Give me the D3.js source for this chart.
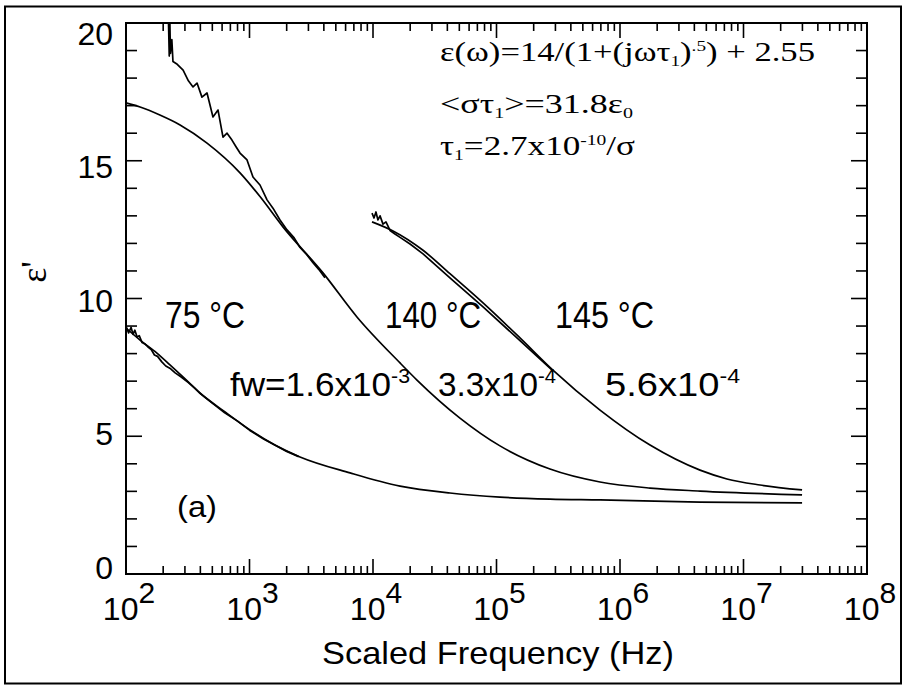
<!DOCTYPE html>
<html><head><meta charset="utf-8">
<script src="https://cdn.jsdelivr.net/npm/d3@7"></script>
<style>body{margin:0;background:#fff}</style>
</head><body>
<svg id="c" width="906" height="686"></svg>
<script>
// ---- data (frequency in Hz, permittivity eps') ----
const fit75Freq = [100, 130, 178, 227, 301, 397, 634, 1009, 1607, 2564, 6516, 16560, 41980, 106700, 271000, 689000, 4446000, 29800000];
const fit75Val  = [8.93, 8.49, 8.02, 7.59, 7.08, 6.57, 5.88, 5.23, 4.68, 4.25, 3.67, 3.19, 2.94, 2.79, 2.72, 2.69, 2.61, 2.58];
const data75Freq = [100, 105, 110, 114, 118, 123, 128, 135, 142, 150, 160, 170, 180, 195, 210, 230, 250, 280, 320, 360, 400, 500, 630, 800, 1000, 1300, 1600, 2000, 2500];
const data75Val  = [9.0, 8.75, 8.95, 8.7, 8.85, 8.6, 8.65, 8.4, 8.35, 8.25, 8.15, 7.95, 7.9, 7.7, 7.55, 7.45, 7.3, 7.15, 6.95, 6.75, 6.55, 6.2, 5.85, 5.55, 5.22, 4.9, 4.68, 4.45, 4.26];

const fit140Freq = [100, 130, 188, 274, 453, 838, 1216, 1866, 3936, 7413, 16558, 22700, 50580, 106700, 271000, 689000, 1750000, 4446000, 29800000];
const fit140Val  = [17.10, 16.95, 16.66, 16.30, 15.64, 14.56, 13.70, 12.60, 10.93, 9.33, 7.66, 7.04, 5.66, 4.65, 3.81, 3.34, 3.12, 3.01, 2.87];
const data140Freq = [219, 224, 226, 229, 235, 240, 260, 290, 320, 349, 376, 412, 453, 506, 556, 610, 658, 721, 780, 838, 955, 1067, 1216, 1387, 1549, 1766, 2014, 2300, 2564, 2900, 3266, 3650, 4083];
const data140Val  = [20.8, 18.8, 20.3, 18.9, 19.4, 18.6, 18.5, 18.29, 17.9, 17.68, 17.82, 17.31, 17.46, 16.59, 16.84, 15.86, 16.0, 15.75, 15.5, 15.28, 15.03, 14.41, 14.12, 13.58, 13.28, 12.85, 12.49, 12.2, 11.85, 11.6, 11.3, 11.05, 10.75];

const fit145Freq = [9817, 14520, 25410, 41980, 77800, 154900, 286400, 689000, 1750000, 4446000, 7345000, 13610000, 29800000];
const fit145Val  = [12.78, 12.45, 11.75, 10.90, 9.84, 8.57, 7.40, 5.95, 4.68, 3.77, 3.45, 3.23, 3.05];
const data145Freq = [9817, 10186, 10568, 10965, 11402, 12050, 12735, 13740, 15066, 16558, 19953, 25410, 41976, 77804, 154882, 286417];
const data145Val  = [13.10, 12.92, 13.14, 12.85, 13.0, 12.70, 12.78, 12.47, 12.34, 12.22, 11.98, 11.62, 10.75, 9.70, 8.47, 7.37];

const xDecades = [2, 3, 4, 5, 6, 7, 8];
const yTickLabels = [0, 5, 10, 15, 20];
const tempLabels = ["75 \u00B0C", "140 \u00B0C", "145 \u00B0C"];
const fwMantissa = ["fw=1.6x10", "3.3x10", "5.6x10"];
const fwExponent = ["-3", "-4", "-4"];

// ---- layout ----
const svg = d3.select('#c');
const L = 126, R = 867, T = 23, B = 574;
const x = d3.scaleLog().domain([1e2, 1e8]).range([L, R]);
const y = d3.scaleLinear().domain([0, 20]).range([B, T]);
const yLab = d3.scaleLinear().domain([0, 20]).range([567, 33]);
const sans = "'Liberation Sans', Arial, Helvetica, sans-serif";
const serif = "'Liberation Serif', 'Times New Roman', serif";

// outer frame
svg.append('rect').attr('x', 5).attr('y', 6.5).attr('width', 896).attr('height', 677)
  .attr('fill', 'none').attr('stroke', '#000').attr('stroke-width', 2);

svg.append('clipPath').attr('id', 'clip').append('rect')
  .attr('x', L).attr('y', T).attr('width', R - L).attr('height', B - T);

// ticks
const tg = svg.append('g').attr('stroke', '#000').attr('stroke-width', 1.6);
x.ticks().forEach(v => {
  const major = Math.abs(Math.log10(v) - Math.round(Math.log10(v))) < 1e-9;
  const len = major ? 15 : 8;
  const px = x(v);
  tg.append('line').attr('x1', px).attr('x2', px).attr('y1', B).attr('y2', B - len);
  tg.append('line').attr('x1', px).attr('x2', px).attr('y1', T).attr('y2', T + len);
});
y.ticks(20).forEach(v => {
  const len = (v % 5 === 0) ? 16 : 11;
  const py = y(v);
  tg.append('line').attr('x1', L).attr('x2', L + len).attr('y1', py).attr('y2', py);
  tg.append('line').attr('x1', R).attr('x2', R - len).attr('y1', py).attr('y2', py);
});
// plot frame
svg.append('rect').attr('x', L).attr('y', T).attr('width', R - L).attr('height', B - T)
  .attr('fill', 'none').attr('stroke', '#000').attr('stroke-width', 2);

// curves
const smooth = d3.line().x(d => x(d[0])).y(d => y(d[1])).curve(d3.curveMonotoneX);
const rough = d3.line().x(d => x(d[0])).y(d => y(d[1]));
const cg = svg.append('g').attr('clip-path', 'url(#clip)').attr('fill', 'none').attr('stroke', '#000')
  .attr('stroke-width', 1.7).attr('stroke-linejoin', 'round');
[[fit75Freq, fit75Val, smooth], [data75Freq, data75Val, rough], [fit140Freq, fit140Val, smooth], [data140Freq, data140Val, rough],
 [fit145Freq, fit145Val, smooth], [data145Freq, data145Val, rough]].forEach(([f, v, gen]) => {
  cg.append('path').attr('d', gen(f.map((ff, i) => [ff, v[i]])));
});

// y tick labels
yTickLabels.forEach(v => {
  svg.append('text').attr('x', 113).attr('y', yLab(v)).attr('dy', '0.36em')
    .attr('text-anchor', 'end').attr('font-family', sans).attr('font-size', 32).text(v);
});
// x tick labels
xDecades.forEach(e => {
  const t = svg.append('text').attr('x', x(Math.pow(10, e)) + 3).attr('y', 620)
    .attr('text-anchor', 'middle').attr('font-family', sans).attr('font-size', 32);
  t.append('tspan').text('10');
  t.append('tspan').attr('dy', -17).attr('font-size', 30).text(e);
});
// axis titles
svg.append('text').attr('x', 498).attr('y', 664).attr('text-anchor', 'middle')
  .attr('font-family', sans).attr('font-size', 32).attr('textLength', 352).attr('lengthAdjust', 'spacingAndGlyphs')
  .text('Scaled Frequency (Hz)');
svg.append('text').attr('transform', 'translate(46,272) rotate(-90)').attr('text-anchor', 'middle')
  .attr('font-family', serif).attr('font-size', 36).text("\u03B5'");

// rich text helper
function rich(xp, yp, parts, opts) {
  const t = svg.append('text').attr('x', xp).attr('y', yp)
    .attr('font-family', opts.family).attr('font-size', opts.size);
  if (opts.len) t.attr('textLength', opts.len).attr('lengthAdjust', 'spacingAndGlyphs');
  let shift = 0;
  parts.forEach(p => {
    const target = p.sup ? -p.sup : (p.sub ? p.sub : 0);
    const ts = t.append('tspan').text(p.t).attr('dy', target - shift);
    if (p.fs) ts.attr('font-size', p.fs);
    shift = target;
  });
  return t;
}
// formula annotations
rich(440, 61, [{t: '\u03B5(\u03C9)=14/(1+(j\u03C9\u03C4'}, {t: '1', sub: 5, fs: 15}, {t: ')'}, {t: '.5', sup: 10, fs: 15}, {t: ') + 2.55'}],
  {family: serif, size: 27, len: 375});
rich(440, 113, [{t: '<\u03C3\u03C4'}, {t: '1', sub: 5, fs: 15}, {t: '>=31.8\u03B5'}, {t: '0', sub: 5, fs: 15}],
  {family: serif, size: 27, len: 193});
rich(440, 155, [{t: '\u03C4'}, {t: '1', sub: 5, fs: 15}, {t: '=2.7x10'}, {t: '-10', sup: 10, fs: 15}, {t: '/\u03C3'}],
  {family: serif, size: 27, len: 195});

// temperature labels
const tempX = [165, 385, 555];
const tempW = [80, 96, 99];
tempLabels.forEach((s, i) => rich(tempX[i], 328, [{t: s}], {family: sans, size: 37, len: tempW[i]}));
// fw labels
const fwX = [230, 438, 605];
const fwW = [180, 118, 135];
fwMantissa.forEach((s, i) => rich(fwX[i], 396, [{t: s}, {t: fwExponent[i], sup: 13, fs: 20}], {family: sans, size: 33, len: fwW[i]}));
// panel label
rich(177, 517, [{t: '(a)'}], {family: sans, size: 30, len: 40});
</script>
</body></html>
